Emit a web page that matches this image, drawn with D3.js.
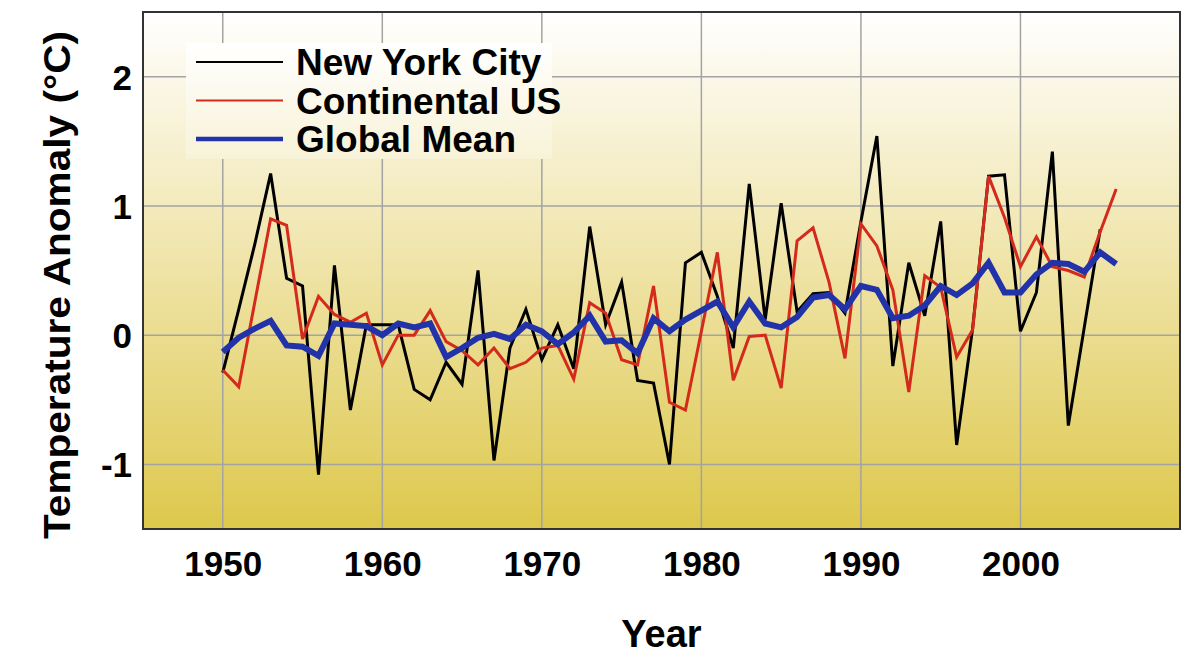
<!DOCTYPE html>
<html lang="en">
<head>
    <meta charset="UTF-8">
    <title>Temperature Anomaly</title>
    <script src="https://cdn.jsdelivr.net/npm/d3@7"></script>
    <style>
      body { margin: 0; background: #ffffff; }
      text { font-family: "Liberation Sans", Arial, sans-serif; font-weight: bold; fill: #000; }
    </style>
</head>
<body>
<div class="chart"></div>
<script>
  // values
  const years = d3.range(1950, 2007);
  const nyc = [-0.29, 0.2, 0.7, 1.25, 0.44, 0.38, -1.08, 0.54, -0.58, 0.08,
               0.08, 0.08, -0.42, -0.5, -0.21, -0.38, 0.5, -0.97, -0.1, 0.2,
               -0.19, 0.08, -0.26, 0.84, 0.08, 0.41, -0.35, -0.37, -1.0, 0.56,
               0.64, 0.3, -0.1, 1.17, 0.12, 1.02, 0.18, 0.32, 0.33, 0.17,
               0.88, 1.54, -0.24, 0.56, 0.15, 0.88, -0.85, 0.05, 1.23, 1.24,
               0.03, 0.33, 1.42, -0.7, 0.06, 0.82, null];
  const contUS = [-0.27, -0.4, 0.25, 0.9, 0.85, -0.03, 0.3, 0.16, 0.1, 0.17,
                  -0.23, 0.0, 0.0, 0.19, -0.05, -0.12, -0.23, -0.1, -0.26, -0.21,
                  -0.1, -0.08, -0.34, 0.25, 0.17, -0.19, -0.23, 0.38, -0.52, -0.58,
                  0.03, 0.64, -0.35, -0.01, 0.0, -0.41, 0.73, 0.83, 0.41, -0.18,
                  0.86, 0.69, 0.35, -0.44, 0.46, 0.37, -0.17, 0.04, 1.23, 0.91,
                  0.53, 0.76, 0.53, 0.5, 0.45, 0.8, 1.13];
  const globalMean = [-0.13, -0.02, 0.05, 0.11, -0.08, -0.09, -0.16, 0.09, 0.08, 0.07,
                      0.0, 0.09, 0.06, 0.09, -0.17, -0.1, -0.02, 0.01, -0.03, 0.08,
                      0.03, -0.07, 0.02, 0.15, -0.05, -0.04, -0.14, 0.13, 0.03, 0.12,
                      0.19, 0.26, 0.06, 0.26, 0.09, 0.06, 0.14, 0.29, 0.31, 0.2,
                      0.38, 0.35, 0.13, 0.15, 0.23, 0.38, 0.31, 0.4, 0.56, 0.33,
                      0.33, 0.47, 0.56, 0.55, 0.49, 0.64, 0.55];
  const xTicks = [1950, 1960, 1970, 1980, 1990, 2000];
  const yTicks = [-1, 0, 1, 2];
  const seriesNames = ['New York City', 'Continental US', 'Global Mean'];

  const bxSize = {w: 1185, h: 656};
  const margin = {top: 12, right: 5, bottom: 127, left: 143};
  const [width, height] = [bxSize.w - margin.left - margin.right, bxSize.h - margin.top - margin.bottom];

  const root = d3.select('.chart').append('svg')
    .attr('width', bxSize.w).attr('height', bxSize.h);
  const svg = root.append('g').attr('transform', `translate(${margin.left} ${margin.top})`);

  const grad = root.append('defs').append('linearGradient')
    .attr('id', 'bg').attr('gradientUnits', 'userSpaceOnUse')
    .attr('x1', 0).attr('y1', 0).attr('x2', 0).attr('y2', height);
  grad.append('stop').attr('offset', '0%').attr('stop-color', '#ffffff');
  grad.append('stop').attr('offset', '50%').attr('stop-color', '#efe3a6');
  grad.append('stop').attr('offset', '100%').attr('stop-color', '#ddc84c');

  const xScale = d3.scaleLinear().domain([1945, 2010]).range([0, width]);
  const yScale = d3.scaleLinear().domain([-1.5, 2.5]).range([height, 0]);

  svg.append('rect').attr('width', width).attr('height', height).attr('fill', 'url(#bg)');

  // grid
  svg.append('g').selectAll('line').data(xTicks).enter().append('line')
    .attr('x1', d=>xScale(d)).attr('x2', d=>xScale(d)).attr('y1', 0).attr('y2', height)
    .attr('stroke', '#a3a3a3').attr('stroke-width', 1.5);
  svg.append('g').selectAll('line').data(yTicks).enter().append('line')
    .attr('y1', d=>yScale(d)).attr('y2', d=>yScale(d)).attr('x1', 0).attr('x2', width)
    .attr('stroke', '#a3a3a3').attr('stroke-width', 1.5);

  // axes, labels only
  const xAxis = d3.axisBottom(xScale).tickValues(xTicks).tickFormat(d3.format('d')).tickSize(0).tickPadding(14);
  const yAxis = d3.axisLeft(yScale).tickValues(yTicks).tickFormat(d=>d).tickSize(0).tickPadding(11);
  svg.append('g').attr('transform', `translate(0 ${height})`).call(xAxis)
    .call(g=>g.select('.domain').remove())
    .selectAll('text').attr('font-size', 35).attr('font-family', null).attr('fill', '#000').attr('dy', '0.95em');
  svg.append('g').call(yAxis)
    .call(g=>g.select('.domain').remove())
    .selectAll('text').attr('font-size', 35).attr('font-family', null).attr('fill', '#000').attr('dy', '0.36em');

  // legend box (covers grid)
  const legend = svg.append('g').attr('transform', 'translate(43 31)');
  legend.append('rect').attr('width', 366).attr('height', 116).attr('fill', 'url(#bg)');

  const data = [
    {name: seriesNames[0], values: nyc, color: '#000000', w: 3, lw: 2.2},
    {name: seriesNames[1], values: contUS, color: '#d42a1c', w: 3, lw: 2.2},
    {name: seriesNames[2], values: globalMean, color: '#2233aa', w: 6, lw: 4.5}
  ];

  const line = d3.line()
    .defined(d=>d.v !== null)
    .x(d=>xScale(d.year)).y(d=>yScale(d.v));

  svg.selectAll('.series').data(data).enter().append('path')
    .attr('class', 'series')
    .attr('d', s=>line(years.map((y, i)=>({year: y, v: s.values[i]}))))
    .attr('fill', 'none').attr('stroke', s=>s.color).attr('stroke-width', s=>s.w)
    .attr('stroke-linejoin', 'miter');

  const rows = legend.selectAll('.row').data(data).enter().append('g')
    .attr('transform', (d, i)=>`translate(0 ${19 + i * 38.5})`);
  rows.append('line').attr('x1', 10).attr('x2', 97).attr('y1', 0).attr('y2', 0)
    .attr('stroke', d=>d.color).attr('stroke-width', d=>d.lw);
  rows.append('text').attr('x', 110).attr('dy', '0.36em').attr('font-size', 37).text(d=>d.name);

  // frame
  svg.append('rect').attr('width', width).attr('height', height)
    .attr('fill', 'none').attr('stroke', '#333').attr('stroke-width', 2);

  // titles
  root.append('text').attr('x', margin.left + width / 2).attr('y', 647)
    .attr('text-anchor', 'middle').attr('font-size', 38).text('Year');
  root.append('text').attr('transform', `translate(70 285) rotate(-90)`)
    .attr('text-anchor', 'middle').attr('font-size', 37)
    .attr('textLength', 508).attr('lengthAdjust', 'spacingAndGlyphs')
    .text('Temperature Anomaly (°C)');
</script>
</body>
</html>
